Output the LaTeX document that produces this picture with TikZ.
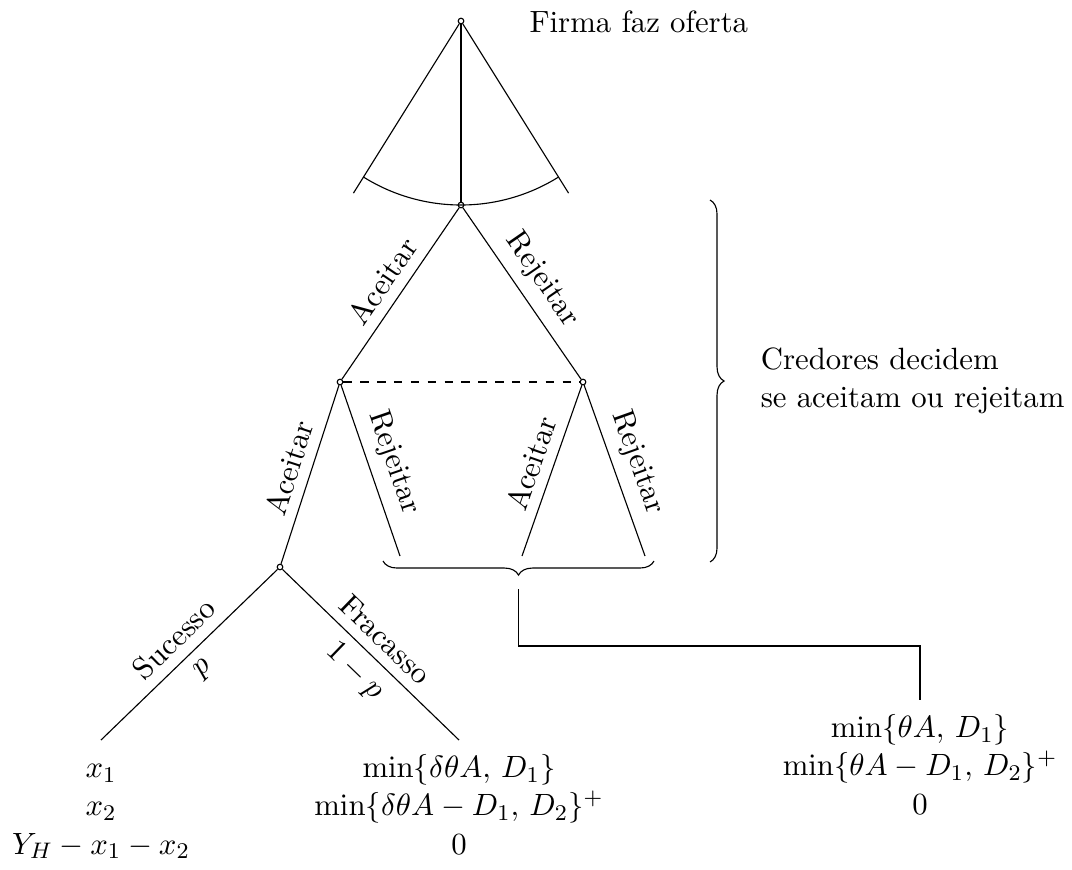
\documentclass[11pt,tikz,border=0pt]{standalone}
\usepackage{amsmath, amssymb}
\usepackage{tikz}
\usetikzlibrary{decorations.pathreplacing, calc}

\begin{document}
\begin{tikzpicture}[x=1.2508cm, y=1.2508cm,
  dec/.style={circle, draw, fill=white, inner sep=0pt, minimum size=2pt},
  lbl/.style={midway, sloped}]
  \useasboundingbox (0,0) rectangle (10.72,-8.69);
  % Decision nodes
  \node[dec] (r0) at (4.61,-0.21) {};
  \node[dec] (n1) at (4.61,-2.05) {};
  \node[dec] (n2) at (3.40,-3.82) {};
  \node[dec] (n3) at (5.83,-3.82) {};
  \node[dec] (n4) at (2.80,-5.67) {};
  \coordinate (l1) at (4.00,-5.56);
  \coordinate (l2) at (5.22,-5.56);
  \coordinate (l3) at (6.45,-5.56);
  % Offer fan
  \coordinate (fl) at ($(r0)+(-122:2.03)$);
  \coordinate (fr) at ($(r0)+(-58:2.03)$);
  \draw (r0) -- (fl);
  \draw (r0) -- (fr);
  \draw (r0) -- (n1);
  \draw ([shift={(-122:1.84)}]r0.center) arc[start angle=-122, end angle=-58, radius=1.84];
  \node[anchor=base west, inner sep=0pt] (t0) at (5.29,-0.323) {Firma faz oferta};
  % Payoffs
  \node[anchor=north] (pa) at (1.01,-7.40)
    {\begin{tabular}{c}$x_1$\\ $x_2$\\ $Y_H - x_1 - x_2$\end{tabular}};
  \node[anchor=north] (pb) at (4.59,-7.40)
    {\begin{tabular}{c}$\min\{\delta\theta A,\, D_1\}$\\ $\min\{\delta\theta A - D_1,\, D_2\}^+$\\ $0$\end{tabular}};
  \node[anchor=north] (pc) at (9.20,-7.00)
    {\begin{tabular}{c}$\min\{\theta A,\, D_1\}$\\ $\min\{\theta A - D_1,\, D_2\}^+$\\ $0$\end{tabular}};
  % Creditors
  \draw (n1) -- node[lbl, above] {Aceitar} (n2);
  \draw (n1) -- node[lbl, above] {Rejeitar} (n3);
  \draw[dashed] (n2) -- (n3);
  \draw (n2) -- node[lbl, above] {Aceitar} (n4);
  \draw (n2) -- node[lbl, above] {Rejeitar} (l1);
  \draw (n3) -- node[lbl, above] {Aceitar} (l2);
  \draw (n3) -- node[lbl, above] {Rejeitar} (l3);
  % Nature
  \draw (n4) -- node[lbl, above] {Sucesso} node[lbl, below] {$p$} (pa.north);
  \draw (n4) -- node[lbl, above] {Fracasso} node[lbl, below] {$1-p$} (pb.north);
  % Braces
  \draw[decorate, decoration={brace, amplitude=5pt, mirror}] (3.83,-5.61) -- (6.54,-5.61);
  \coordinate (bt) at (5.185,-5.89);
  \coordinate (kink) at (5.185,-6.46);
  \draw (bt) -- (kink) -| (pc.north);
  \draw[decorate, decoration={brace, amplitude=5pt}] (7.10,-2.00) -- (7.10,-5.62);
  \node[anchor=west, align=left] (t1) at (7.50,-3.81) {Credores decidem\\se aceitam ou rejeitam};
\end{tikzpicture}
\end{document}
